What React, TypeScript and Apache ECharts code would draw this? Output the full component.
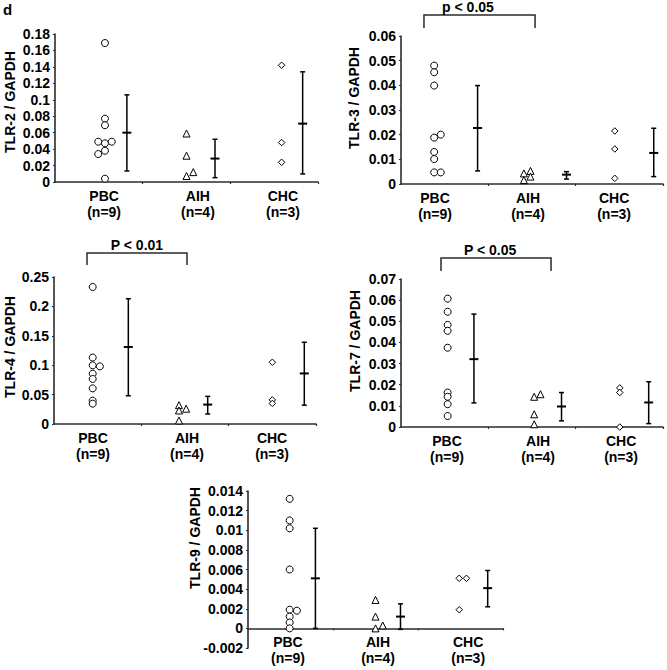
import React, { useEffect, useRef } from 'react';
import * as echarts from 'echarts';

const CATEGORIES = ['PBC', 'AIH', 'CHC'];
const GROUP_N = ['(n=9)', '(n=4)', '(n=3)'];

// TLR-2 / GAPDH
const TLR2_PBC = [0.169, 0.077, 0.069, 0.049, 0.047, 0.049, 0.038, 0.034, 0.004];
const TLR2_AIH = [0.059, 0.032, 0.0073, 0.012];
const TLR2_CHC = [0.142, 0.048, 0.024];
const TLR2_MEAN = [0.06, 0.0285, 0.071];
const TLR2_LOW = [0.0134, 0.0053, 0.0098];
const TLR2_HIGH = [0.106, 0.052, 0.134];

// TLR-3 / GAPDH
const TLR3_PBC = [0.048, 0.0453, 0.0399, 0.0188, 0.02, 0.013, 0.0101, 0.0047, 0.0047];
const TLR3_AIH = [0.0043, 0.0016, 0.0053, 0.003];
const TLR3_CHC = [0.0215, 0.0142, 0.0023];
const TLR3_MEAN = [0.0227, 0.0038, 0.0126];
const TLR3_LOW = [0.0053, 0.002, 0.003];
const TLR3_HIGH = [0.0399, 0.005, 0.0226];

// TLR-4 / GAPDH
const TLR4_PBC = [0.233, 0.113, 0.0998, 0.098, 0.0856, 0.0766, 0.0606, 0.0397, 0.0346];
const TLR4_AIH = [0.032, 0.023, 0.026, 0.006];
const TLR4_CHC = [0.105, 0.041, 0.035];
const TLR4_MEAN = [0.131, 0.033, 0.086];
const TLR4_LOW = [0.048, 0.017, 0.032];
const TLR4_HIGH = [0.213, 0.047, 0.139];

// TLR-7 / GAPDH
const TLR7_PBC = [0.0607, 0.0545, 0.0483, 0.0455, 0.0375, 0.0163, 0.0143, 0.0108, 0.0052];
const TLR7_AIH = [0.0143, 0.0155, 0.006, 0.0013];
const TLR7_CHC = [0.0185, 0.0163, 0];
const TLR7_MEAN = [0.0321, 0.0097, 0.0116];
const TLR7_LOW = [0.0114, 0.0029, 0.0016];
const TLR7_HIGH = [0.0534, 0.0163, 0.0214];

// TLR-9 / GAPDH
const TLR9_PBC = [0.0132, 0.011, 0.0102, 0.006, 0.0019, 0.0018, 0.0012, 0.0006, 0];
const TLR9_AIH = [0.0029, 0.0012, 0, 0.0003];
const TLR9_CHC = [0.0051, 0.0051, 0.0019];
const TLR9_MEAN = [0.0051, 0.0012, 0.0041];
const TLR9_LOW = [0, -0.0001, 0.0022];
const TLR9_HIGH = [0.0102, 0.0025, 0.0059];

const FONT = '"Liberation Sans", Arial, Helvetica, sans-serif';
const INK = '#000';
const AXIS = '#2b2b2b';

type Panel = {
  title: string;
  values: number[][];
  mean: number[];
  low: number[];
  high: number[];
  // layout
  grid: [number, number, number, number];
  yMin: number;
  yMax: number;
  yInterval: number;
  centers: number[];
  spacing: number;
  cols: number[][];
  barX: number[];
  labelX: number[];
  titlePos: [number, number];
  bracket?: { x1: number; x2: number; yTop: number; yBot: number; textX: number; text: string };
};

const PANELS: Panel[] = [
  {
    title: 'TLR-2 / GAPDH',
    values: [TLR2_PBC, TLR2_AIH, TLR2_CHC],
    mean: TLR2_MEAN, low: TLR2_LOW, high: TLR2_HIGH,
    grid: [55, 34, 263, 148],
    yMin: 0, yMax: 0.18, yInterval: 0.02,
    centers: [0.57, 1.5, 2.585], spacing: 0.077,
    cols: [[0, 0, 0, -1, 0, 1, 0, -1, 0], [0, 0, 0, 1], [0, 0, 0]],
    barX: [0.82, 1.825, 2.825],
    labelX: [0.56, 1.63, 2.6],
    titlePos: [10, 102],
  },
  {
    title: 'TLR-3 / GAPDH',
    values: [TLR3_PBC, TLR3_AIH, TLR3_CHC],
    mean: TLR3_MEAN, low: TLR3_LOW, high: TLR3_HIGH,
    grid: [401, 36, 262, 148],
    yMin: 0, yMax: 0.06, yInterval: 0.01,
    centers: [0.38, 1.407, 2.448], spacing: 0.075,
    cols: [[0, 0, 0, 0, 1, 0, 0, 0, 1], [0, 0, 1, 1], [0, 0, 0]],
    barX: [0.877, 1.895, 2.894],
    labelX: [0.39, 1.455, 2.44],
    titlePos: [354, 98],
    bracket: { x1: 0.263, x2: 1.535, yTop: 0.0685, yBot: 0.0632, textX: 0.767, text: 'p < 0.05' },
  },
  {
    title: 'TLR-4 / GAPDH',
    values: [TLR4_PBC, TLR4_AIH, TLR4_CHC],
    mean: TLR4_MEAN, low: TLR4_LOW, high: TLR4_HIGH,
    grid: [54, 277, 262, 147],
    yMin: 0, yMax: 0.25, yInterval: 0.05,
    centers: [0.443, 1.431, 2.5], spacing: 0.082,
    cols: [[0, 0, 0, 1, 0, 0, 0, 0, 0], [0, 0, 1, 0], [0, 0, 0]],
    barX: [0.851, 1.76, 2.866],
    labelX: [0.447, 1.523, 2.497],
    titlePos: [9.5, 347],
    bracket: { x1: 0.378, x2: 1.523, yTop: 0.2908, yBot: 0.2704, textX: 0.95, text: 'P < 0.01' },
  },
  {
    title: 'TLR-7 / GAPDH',
    values: [TLR7_PBC, TLR7_AIH, TLR7_CHC],
    mean: TLR7_MEAN, low: TLR7_LOW, high: TLR7_HIGH,
    grid: [401, 279, 262, 148],
    yMin: 0, yMax: 0.07, yInterval: 0.01,
    centers: [0.534, 1.525, 2.505], spacing: 0.072,
    cols: [[0, 0, 0, 0, 0, 0, 0, 0, 0], [0, 1, 0, 0], [0, 0, 0]],
    barX: [0.835, 1.838, 2.836],
    labelX: [0.527, 1.57, 2.52],
    titlePos: [354.7, 341],
    bracket: { x1: 0.458, x2: 1.718, yTop: 0.0799, yBot: 0.0738, textX: 1.02, text: 'P < 0.05' },
  },
  {
    title: 'TLR-9 / GAPDH',
    values: [TLR9_PBC, TLR9_AIH, TLR9_CHC],
    mean: TLR9_MEAN, low: TLR9_LOW, high: TLR9_HIGH,
    grid: [248, 491, 255, 157],
    yMin: -0.002, yMax: 0.014, yInterval: 0.002,
    centers: [0.49, 1.5, 2.485], spacing: 0.085,
    cols: [[0, 0, 0, 0, 0, 1, 0, 0, 0], [0, 0, 0, 1], [0, 1, 0]],
    barX: [0.793, 1.794, 2.82],
    labelX: [0.47, 1.53, 2.59],
    titlePos: [195, 538],
  },
];

const SYMBOLS = ['circle', 'triangle', 'diamond'];
const SYMBOL_SIZES = [7, 7, 6.5];

function buildOption() {
  const grid: any[] = [];
  const xAxis: any[] = [];
  const yAxis: any[] = [];
  const series: any[] = [];
  const graphic: any[] = [
    {
      type: 'text',
      x: 3,
      y: 9,
      style: {
        text: 'd',
        fontSize: 15,
        fontWeight: 'bold',
        fontFamily: FONT,
        fill: INK,
        textAlign: 'left',
        textVerticalAlign: 'middle',
        align: 'left',
        verticalAlign: 'middle',
      },
    },
  ];

  PANELS.forEach((p, i) => {
    grid.push({
      left: p.grid[0],
      top: p.grid[1],
      width: p.grid[2],
      height: p.grid[3],
      containLabel: false,
      outerBoundsMode: 'none',
    });
    const labelX = p.labelX;
    // place the x axis (line + labels) at y = 0 through the y scale
    const zeroOffset = -p.grid[3] * (0 - p.yMin) / (p.yMax - p.yMin);
    xAxis.push({
      type: 'value',
      gridIndex: i,
      min: 0,
      max: 3,
      interval: 1,
      offset: zeroOffset,
      splitLine: { show: false },
      axisLine: { show: true, onZero: false, lineStyle: { color: AXIS, width: 1.6 } },
      axisTick: { show: true, length: 2, customValues: [1, 2, 3], lineStyle: { color: AXIS, width: 1.2 } },
      axisLabel: {
        show: true,
        customValues: labelX,
        margin: 6,
        color: INK,
        fontSize: 14,
        fontWeight: 'bold',
        fontFamily: FONT,
        lineHeight: 16,
        formatter: (v: number) => {
          let k = 0;
          let best = Infinity;
          labelX.forEach((lx, j) => {
            const d = Math.abs(lx - v);
            if (d < best) {
              best = d;
              k = j;
            }
          });
          return CATEGORIES[k] + '\n' + GROUP_N[k];
        },
      },
    });
    yAxis.push({
      type: 'value',
      gridIndex: i,
      min: p.yMin,
      max: p.yMax,
      interval: p.yInterval,
      splitLine: { show: false },
      axisLine: { show: true, onZero: false, lineStyle: { color: AXIS, width: 1.6 } },
      axisTick: { show: true, length: 2, lineStyle: { color: AXIS, width: 1.2 } },
      axisLabel: {
        show: true,
        margin: 5,
        color: INK,
        fontSize: 14,
        fontWeight: 'bold',
        fontFamily: FONT,
      },
    });

    p.values.forEach((vals, g) => {
      series.push({
        type: 'scatter',
        name: p.title + ' ' + CATEGORIES[g],
        xAxisIndex: i,
        yAxisIndex: i,
        symbol: SYMBOLS[g],
        symbolSize: SYMBOL_SIZES[g],
        silent: true,
        z: 3,
        itemStyle: { color: '#fff', borderColor: INK, borderWidth: 1, opacity: 1 },
        data: vals.map((v, k) => [p.centers[g] + p.cols[g][k] * p.spacing, v]),
      });
    });

    series.push({
      type: 'custom',
      name: p.title + ' mean±SD',
      xAxisIndex: i,
      yAxisIndex: i,
      silent: true,
      z: 4,
      encode: { x: 0, y: [1, 2, 3] },
      data: p.barX.map((x, k) => [x, p.low[k], p.mean[k], p.high[k]]),
      renderItem: (params: any, api: any) => {
        const x = api.value(0);
        const lo = api.coord([x, api.value(1)]);
        const mid = api.coord([x, api.value(2)]);
        const hi = api.coord([x, api.value(3)]);
        const st = { stroke: INK, lineWidth: 1.5 };
        return {
          type: 'group',
          children: [
            { type: 'line', shape: { x1: lo[0], y1: lo[1], x2: hi[0], y2: hi[1] }, style: st },
            { type: 'line', shape: { x1: lo[0] - 2.5, y1: lo[1], x2: lo[0] + 2.5, y2: lo[1] }, style: st },
            { type: 'line', shape: { x1: hi[0] - 2.5, y1: hi[1], x2: hi[0] + 2.5, y2: hi[1] }, style: st },
            { type: 'line', shape: { x1: mid[0] - 4.5, y1: mid[1], x2: mid[0] + 4.5, y2: mid[1] }, style: { stroke: INK, lineWidth: 2 } },
          ],
        };
      },
    });

    if (p.bracket) {
      const b = p.bracket;
      series.push({
        type: 'custom',
        name: p.title + ' bracket',
        xAxisIndex: i,
        yAxisIndex: i,
        silent: true,
        clip: false,
        encode: { x: [0, 1], y: [2, 3] },
        data: [[b.x1, b.x2, b.yTop, b.yBot, b.textX]],
        renderItem: (params: any, api: any) => {
          const a = api.coord([api.value(0), api.value(3)]);
          const c = api.coord([api.value(0), api.value(2)]);
          const d = api.coord([api.value(1), api.value(2)]);
          const e = api.coord([api.value(1), api.value(3)]);
          const t = api.coord([api.value(4), api.value(2)]);
          return {
            type: 'group',
            children: [
              { type: 'polyline', shape: { points: [a, c, d, e] }, style: { stroke: AXIS, lineWidth: 1.5, fill: null } },
              {
                type: 'text',
                x: t[0],
                y: t[1] - 8,
                style: {
                  text: b.text,
                  fontSize: 14,
                  fontWeight: 'bold',
                  fontFamily: FONT,
                  fill: INK,
                  textAlign: 'center',
                  textVerticalAlign: 'middle',
                  align: 'center',
                  verticalAlign: 'middle',
                },
              },
            ],
          };
        },
      });
    }

    graphic.push({
      type: 'text',
      x: p.titlePos[0],
      y: p.titlePos[1],
      rotation: Math.PI / 2,
      style: {
        text: p.title,
        fontSize: 14,
        fontWeight: 'bold',
        fontFamily: FONT,
        fill: INK,
        textAlign: 'center',
        textVerticalAlign: 'middle',
        align: 'center',
        verticalAlign: 'middle',
      },
    });
  });

  return {
    animation: false,
    backgroundColor: '#fff',
    textStyle: { fontFamily: FONT },
    grid,
    xAxis,
    yAxis,
    series,
    graphic,
  };
}

export default function App() {
  const ref = useRef<HTMLDivElement>(null);
  useEffect(() => {
    if (!ref.current) return;
    const chart = echarts.init(ref.current, undefined, { renderer: 'svg' });
    chart.setOption(buildOption() as any);
    return () => chart.dispose();
  }, []);
  return (
    <div
      ref={ref}
      style={{ position: 'absolute', left: 0, top: 0, width: 667, height: 670, background: '#fff' }}
    />
  );
}
